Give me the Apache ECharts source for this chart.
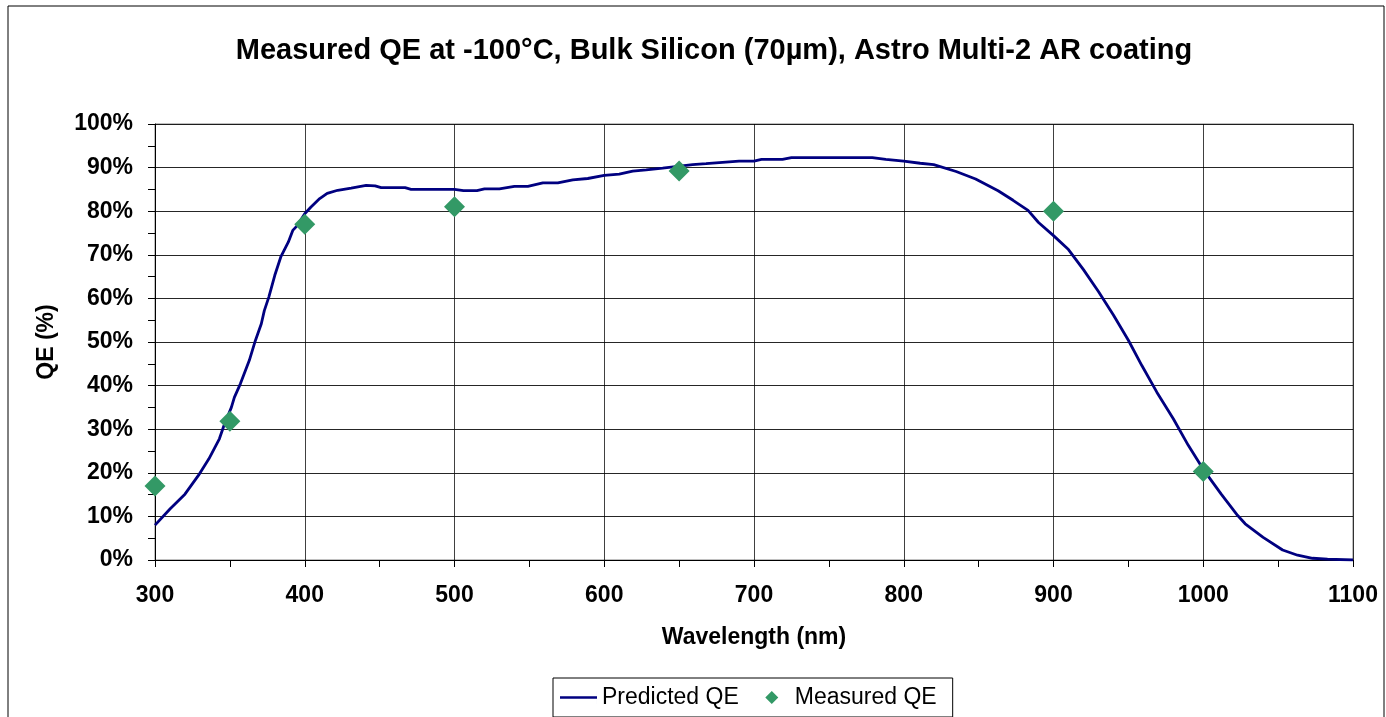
<!DOCTYPE html>
<html><head><meta charset="utf-8">
<script src="https://cdn.jsdelivr.net/npm/echarts@6/dist/echarts.min.js"></script>
<style>html,body{margin:0;padding:0;background:#fff}#c{width:1386px;height:717px}</style>
</head><body><div id="c"></div>
<script>
const predictedWavelength = [300,310,320,329,336,343,346,351,353,357,363,367,371,373,376,380,384,389,392,395,400,404,410,415,422,431,441,447,451,467,471,500,506,515,520,530,540,549,559,569,579,589,600,610,619,628,639,649,659,668,679,690,700,705,719,725,779,788,800,811,820,835,848,863,873,883,890,900,910,920,930,940,950,959,969,980,990,1000,1012,1023,1028,1040,1053,1063,1073,1083,1100];
const predictedQE = [8.0,11.7,15.1,19.4,23.2,27.8,30.8,35.0,37.3,40.4,45.8,50.3,54.2,57.2,60.3,65.3,69.5,72.9,75.6,76.7,79.4,80.9,82.9,84.1,84.8,85.3,85.9,85.8,85.4,85.4,85.0,85.0,84.7,84.7,85.1,85.1,85.7,85.7,86.5,86.5,87.2,87.5,88.2,88.5,89.2,89.5,89.9,90.3,90.7,90.9,91.2,91.5,91.5,91.9,91.9,92.3,92.3,91.9,91.5,91.0,90.7,89.1,87.4,84.7,82.5,80.2,77.4,74.4,71.2,66.6,61.6,56.2,50.4,44.6,38.5,32.4,26.3,20.8,15.1,10.2,8.3,5.2,2.3,1.1,0.4,0.2,0.0];
const measuredWavelength = [300,350,400,500,650,900,1000];
const measuredQE = [17.0,31.8,77.0,81.0,89.2,80.0,20.3];
const titleText = 'Measured QE at -100°C, Bulk Silicon (70µm), Astro Multi-2 AR coating';
const xName = 'Wavelength (nm)';
const yName = 'QE (%)';

const FONT = '"Liberation Sans", Arial, sans-serif';
const chart = echarts.init(document.getElementById('c'));
chart.setOption({
  animation: false,
  backgroundColor: '#fff',
  title: {text: titleText, left: 709, textAlign: 'center', top: 31,
    textStyle: {fontFamily: FONT, fontWeight: 'bold', fontSize: 29, color: '#000'}},
  graphic: [{type: 'rect', shape: {x: 8, y: 6, width: 1376, height: 730},
    style: {fill: 'none', stroke: '#000', lineWidth: 1}, z: 100, silent: true}],
  grid: {left: 155, right: 33, top: 124, bottom: 157, show: true, borderColor: '#808080', borderWidth: 1},
  legend: {left: 553, top: 678, orient: 'horizontal', padding: [8, 16, 8, 7], itemGap: 14,
    itemWidth: 37, itemHeight: 14,
    borderColor: '#000', borderWidth: 1, backgroundColor: '#fff',
    textStyle: {fontFamily: FONT, fontSize: 23, color: '#000'},
    data: [{name: 'Predicted QE', icon: 'path://M0,0 L37,0 L37,14 L36.99,14 L36.99,8.2 L0,8.2 L0,5.8 L36.99,5.8 L36.99,0.01 L0,0.01 Z', itemStyle: {color: '#000080'}},
           {name: 'Measured QE', icon: 'path://M0,7 L0.01,7 L0.01,7.01 Z M19,0.5 L25.5,7 L19,13.5 L12.5,7 Z M37,7 L36.99,7 L36.99,7.01 Z'}]},
  xAxis: {type: 'value', min: 300, max: 1100, interval: 100,
    name: xName, nameLocation: 'middle', nameGap: 66,
    nameTextStyle: {fontFamily: FONT, fontWeight: 'bold', fontSize: 23, color: '#000'},
    axisLine: {show: true, lineStyle: {color: '#000'}},
    axisTick: {show: true, length: 7, lineStyle: {color: '#000'}},
    minorTick: {show: true, splitNumber: 2, length: 7, lineStyle: {color: '#000'}},
    axisLabel: {formatter: v => String(v), fontFamily: FONT, fontWeight: 'bold', fontSize: 23, color: '#000', margin: 24},
    splitLine: {show: true, lineStyle: {color: '#000', width: 1, opacity: 0.75}}},
  yAxis: {type: 'value', min: 0, max: 100, interval: 10,
    name: yName, nameLocation: 'middle', nameGap: 97, nameRotate: 90,
    nameTextStyle: {fontFamily: FONT, fontWeight: 'bold', fontSize: 23, color: '#000'},
    axisLine: {show: true, lineStyle: {color: '#000'}},
    axisTick: {show: true, length: 7, lineStyle: {color: '#000'}},
    minorTick: {show: true, splitNumber: 2, length: 7, lineStyle: {color: '#000'}},
    axisLabel: {formatter: '{value}%', fontFamily: FONT, fontWeight: 'bold', fontSize: 23, color: '#000', margin: 22},
    splitLine: {show: true, lineStyle: {color: '#000', width: 1, opacity: 0.85}}},
  series: [
    {name: 'Predicted QE', type: 'line', symbol: 'none', smooth: false,
     lineStyle: {color: '#000080', width: 2.8}, itemStyle: {color: '#000080'},
     data: predictedWavelength.map((w, i) => [w, predictedQE[i]]), z: 3},
    {name: 'Measured QE', type: 'scatter', symbol: 'diamond', symbolSize: 21,
     itemStyle: {color: '#339966', opacity: 1},
     data: measuredWavelength.map((w, i) => [w, measuredQE[i]]), z: 4}
  ]
});
</script></body></html>
